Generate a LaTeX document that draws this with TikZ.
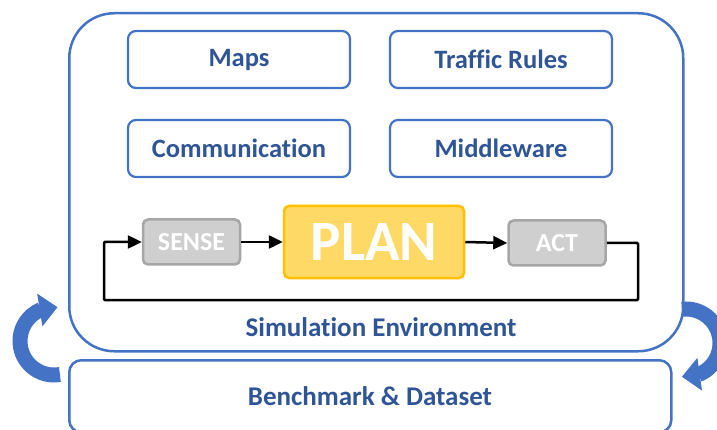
\documentclass[tikz,border=0pt]{standalone}
\usepackage{fontspec}
\setmainfont{Carlito}[Ligatures={NoCommon}]
\usetikzlibrary{arrows.meta,bending}
\definecolor{bl}{HTML}{4472C4}
\definecolor{tx}{HTML}{2F5597}
\definecolor{gfill}{HTML}{CFCFCF}
\definecolor{gline}{HTML}{A6A6A6}
\definecolor{yfill}{HTML}{FFD966}
\definecolor{yline}{HTML}{FFC000}
\begin{document}
\begin{tikzpicture}[x=1pt,y=-1pt,
  box/.style={draw=bl,line width=2.2pt,rounded corners=8pt,minimum width=222pt,minimum height=57pt,font=\fontsize{26.5}{30}\selectfont\bfseries,text=tx},
  gbox/.style={draw=gline,fill=gfill,line width=2.5pt,rounded corners=5pt,minimum width=97pt,minimum height=45pt,font=\fontsize{26}{30}\selectfont\bfseries,text=white},
  flow/.style={line width=2.5pt,-{Triangle[length=14pt,width=13pt]}},
  bigarrow/.style={bl,line width=15pt,-{Triangle[length=18pt,width=32pt,flex]}}]
\useasboundingbox (0,0) rectangle (717,430);
\node[draw=bl,line width=2.5pt,rounded corners=45pt,minimum width=614pt,minimum height=338pt,anchor=north west] (sim) at (68,12) {};
\node[draw=bl,line width=2.5pt,rounded corners=12pt,minimum width=602pt,minimum height=72pt,anchor=north west] (bench) at (68,359) {};
\node[box] (maps) at (239,59.5) {Maps};
\node[box] (rules) at (501,59.5) {Traffic Rules};
\node[box] (comm) at (239,148.5) {Communication};
\node[box] (mid) at (501,148.5) {Middleware};
\node[gbox] (sense) at (191.5,242) {SENSE};
\node[draw=yline,fill=yfill,line width=2.5pt,rounded corners=5pt,minimum width=180pt,minimum height=72pt,font=\fontsize{57}{64}\selectfont\bfseries,text=white] (plan) at (374,242) {PLAN};
\node[gbox] (act) at (557,243) {ACT};
\node[font=\fontsize{27}{31}\selectfont\bfseries,text=tx] (simlbl) at (381,327) {Simulation Environment};
\node[font=\fontsize{27}{31}\selectfont\bfseries,text=tx] (benchlbl) at (370,396) {Benchmark \& Dataset};
\draw[flow] (sense.east) -- (plan.west);
\draw[flow] (plan.east) -- (act.west);
\coordinate (c1) at (638,300);
\coordinate (c2) at (104,300);
\draw[flow,rounded corners=1pt] (act.east) -| (c1) -- (c2) |- (sense.west);
\coordinate (lc) at (54,341);
\coordinate (rc) at (686,343);
\draw[bigarrow] (lc) ++(80:34) arc[start angle=80,end angle=276,radius=34];
\draw[bigarrow] (rc) ++(-97:34) arc[start angle=-97,end angle=97,radius=34];
\end{tikzpicture}
\end{document}
